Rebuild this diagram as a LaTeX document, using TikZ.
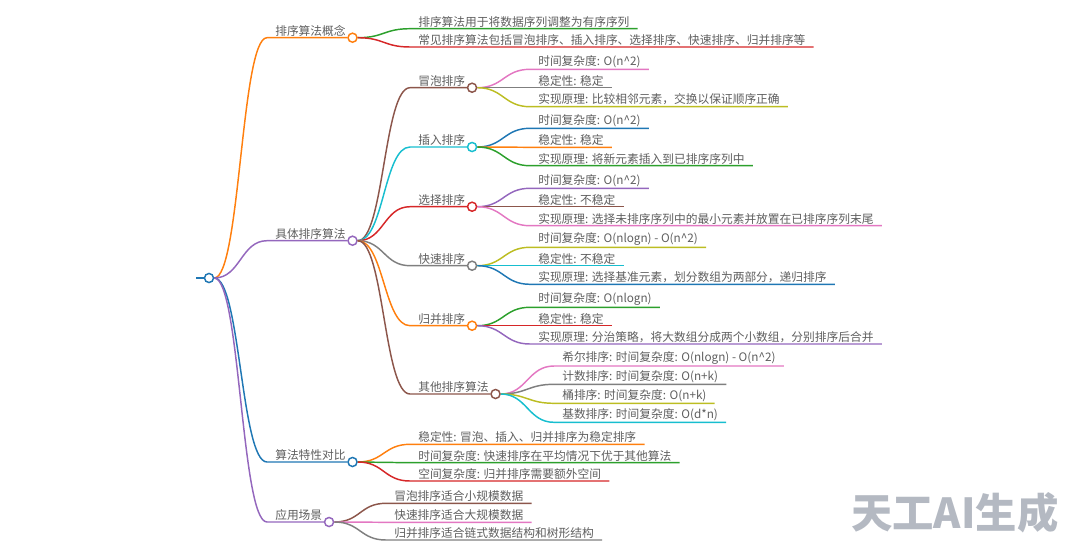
\documentclass[tikz,border=0pt]{standalone}
\usepackage{fontspec}
\usepackage{xcolor}
\newfontfamily\cjk{Noto Sans CJK SC}
\usetikzlibrary{positioning}
\definecolor{cblue}{HTML}{1F77B4}
\definecolor{corange}{HTML}{FF7F0E}
\definecolor{cgreen}{HTML}{2CA02C}
\definecolor{cred}{HTML}{D62728}
\definecolor{cpurple}{HTML}{9467BD}
\definecolor{cbrown}{HTML}{8C564B}
\definecolor{cpink}{HTML}{E377C2}
\definecolor{cgray}{HTML}{7F7F7F}
\definecolor{colive}{HTML}{BCBD22}
\definecolor{ccyan}{HTML}{17BECF}
\definecolor{inkgray}{HTML}{5E5E5E}
\definecolor{markgray}{HTML}{B4B9C2}
\tikzset{
leaf/.style={anchor=south west,inner xsep=6pt,inner ysep=1pt,text=inkgray,font=\cjk\fontsize{8.8}{10}\selectfont},
hub/.style={leaf,inner xsep=0pt},
knot/.style={circle,draw,fill=white,line width=1.1pt,minimum size=6.8pt,inner sep=0pt},
branch/.style={line width=1.1pt,to path={.. controls +(26,0) and +(-26,0) .. (\tikztotarget)}},
}

\begin{document}
\begin{tikzpicture}[x=0.75pt,y=-0.75pt]
\useasboundingbox(0,0)rectangle(1080,554);
\node[knot,draw=cblue](root)at(209,278){};
\coordinate(rootin)at(196,278);
\draw[line width=1.1pt,cblue](rootin)--(root.west);
\node[hub](concept)at(275,37.7){排序算法概念};
\node[hub](algos)at(275,240.7){具体排序算法};
\node[hub](compare)at(275,462){算法特性对比};
\node[hub](usage)at(275,522){应用场景};
\node[knot,draw=corange,right=1pt of concept.south east](kconcept){};
\node[knot,draw=cpurple,right=1pt of algos.south east](kalgos){};
\node[knot,draw=cblue,right=1pt of compare.south east](kcompare){};
\node[knot,draw=cpurple,right=1pt of usage.south east](kusage){};
\draw[branch,corange](root.east)to([xshift=-6pt]concept.south west)--(kconcept.west);
\draw[branch,cpurple](root.east)to([xshift=-6pt]algos.south west)--(kalgos.west);
\draw[branch,cblue](root.east)to([xshift=-6pt]compare.south west)--(kcompare.west);
\draw[branch,cpurple](root.east)to([xshift=-6pt]usage.south west)--(kusage.west);

\node[leaf](def)at(410,28.7){排序算法用于将数据序列调整为有序序列};
\node[leaf](common)at(410,47){常见排序算法包括冒泡排序、插入排序、选择排序、快速排序、归并排序等};
\draw[branch,cgreen](kconcept.east)to(def.south west)--(def.south east);
\draw[branch,cred](kconcept.east)to(common.south west)--(common.south east);

\node[hub](bubble)at(418,87.7){冒泡排序};
\node[hub](insert)at(418,147){插入排序};
\node[hub](select)at(418,206.7){选择排序};
\node[hub](quick)at(418,265.7){快速排序};
\node[hub](merge)at(418,325.7){归并排序};
\node[hub](others)at(418,394){其他排序算法};
\node[knot,draw=cbrown,right=1pt of bubble.south east](kbubble){};
\node[knot,draw=ccyan,right=1pt of insert.south east](kinsert){};
\node[knot,draw=cred,right=1pt of select.south east](kselect){};
\node[knot,draw=cgray,right=1pt of quick.south east](kquick){};
\node[knot,draw=corange,right=1pt of merge.south east](kmerge){};
\node[knot,draw=cbrown,right=1pt of others.south east](kothers){};
\draw[branch,cbrown](kalgos.east)to([xshift=-6pt]bubble.south west)--(kbubble.west);
\draw[branch,ccyan](kalgos.east)to([xshift=-6pt]insert.south west)--(kinsert.west);
\draw[branch,cred](kalgos.east)to([xshift=-6pt]select.south west)--(kselect.west);
\draw[branch,cgray](kalgos.east)to([xshift=-6pt]quick.south west)--(kquick.west);
\draw[branch,corange](kalgos.east)to([xshift=-6pt]merge.south west)--(kmerge.west);
\draw[branch,cbrown](kalgos.east)to([xshift=-6pt]others.south west)--(kothers.west);

\node[leaf](bubtime)at(530,69.3){时间复杂度: O(n\^{}2)};
\node[leaf](bubstab)at(530,87.7){稳定性: 稳定};
\node[leaf](bubidea)at(530,106.7){实现原理: 比较相邻元素，交换以保证顺序正确};
\draw[branch,cpink](kbubble.east)to(bubtime.south west)--(bubtime.south east);
\draw[branch,cgray](kbubble.east)to(bubstab.south west)--(bubstab.south east);
\draw[branch,colive](kbubble.east)to(bubidea.south west)--(bubidea.south east);

\node[leaf](instime)at(530,128.3){时间复杂度: O(n\^{}2)};
\node[leaf](insstab)at(530,147.3){稳定性: 稳定};
\node[leaf](insidea)at(530,165.7){实现原理: 将新元素插入到已排序序列中};
\draw[branch,cblue](kinsert.east)to(instime.south west)--(instime.south east);
\draw[branch,corange](kinsert.east)to(insstab.south west)--(insstab.south east);
\draw[branch,cgreen](kinsert.east)to(insidea.south west)--(insidea.south east);

\node[leaf](seltime)at(530,188.3){时间复杂度: O(n\^{}2)};
\node[leaf](selstab)at(530,206.7){稳定性: 不稳定};
\node[leaf](selidea)at(530,225.7){实现原理: 选择未排序序列中的最小元素并放置在已排序序列末尾};
\draw[branch,cpurple](kselect.east)to(seltime.south west)--(seltime.south east);
\draw[branch,cbrown](kselect.east)to(selstab.south west)--(selstab.south east);
\draw[branch,cpink](kselect.east)to(selidea.south west)--(selidea.south east);

\node[leaf](quitime)at(530,247.3){时间复杂度: O(nlogn) - O(n\^{}2)};
\node[leaf](quistab)at(530,265.7){稳定性: 不稳定};
\node[leaf](quiidea)at(530,284.3){实现原理: 选择基准元素，划分数组为两部分，递归排序};
\draw[branch,colive](kquick.east)to(quitime.south west)--(quitime.south east);
\draw[branch,ccyan](kquick.east)to(quistab.south west)--(quistab.south east);
\draw[branch,cblue](kquick.east)to(quiidea.south west)--(quiidea.south east);

\node[leaf](mertime)at(530,307.3){时间复杂度: O(nlogn)};
\node[leaf](merstab)at(530,325.7){稳定性: 稳定};
\node[leaf](meridea)at(530,344){实现原理: 分治策略，将大数组分成两个小数组，分别排序后合并};
\draw[branch,cgreen](kmerge.east)to(mertime.south west)--(mertime.south east);
\draw[branch,cred](kmerge.east)to(merstab.south west)--(merstab.south east);
\draw[branch,cpurple](kmerge.east)to(meridea.south west)--(meridea.south east);

\node[leaf](shell)at(554,366){希尔排序: 时间复杂度: O(nlogn) - O(n\^{}2)};
\node[leaf](counting)at(554,384.3){计数排序: 时间复杂度: O(n+k)};
\node[leaf](bucket)at(554,403.3){桶排序: 时间复杂度: O(n+k)};
\node[leaf](radix)at(554,422.3){基数排序: 时间复杂度: O(d*n)};
\draw[branch,cpink](kothers.east)to(shell.south west)--(shell.south east);
\draw[branch,cgray](kothers.east)to(counting.south west)--(counting.south east);
\draw[branch,colive](kothers.east)to(bucket.south west)--(bucket.south east);
\draw[branch,ccyan](kothers.east)to(radix.south west)--(radix.south east);

\node[leaf](stab)at(410,444.3){稳定性: 冒泡、插入、归并排序为稳定排序};
\node[leaf](timec)at(410,462.7){时间复杂度: 快速排序在平均情况下优于其他算法};
\node[leaf](space)at(410,481){空间复杂度: 归并排序需要额外空间};
\draw[branch,corange](kcompare.east)to(stab.south west)--(stab.south east);
\draw[branch,cgreen](kcompare.east)to(timec.south west)--(timec.south east);
\draw[branch,cred](kcompare.east)to(space.south west)--(space.south east);

\node[leaf](small)at(386,503.3){冒泡排序适合小规模数据};
\node[leaf](large)at(386,522.3){快速排序适合大规模数据};
\node[leaf](linked)at(386,540){归并排序适合链式数据结构和树形结构};
\draw[branch,cbrown](kusage.east)to(small.south west)--(small.south east);
\draw[branch,cpink](kusage.east)to(large.south west)--(large.south east);
\draw[branch,cgray](kusage.east)to(linked.south west)--(linked.south east);

\node[anchor=base west,inner sep=0pt,text=markgray,font=\cjk\bfseries\fontsize{31}{33}\selectfont](mark)at(851,528){天工AI生成};
\end{tikzpicture}
\end{document}
